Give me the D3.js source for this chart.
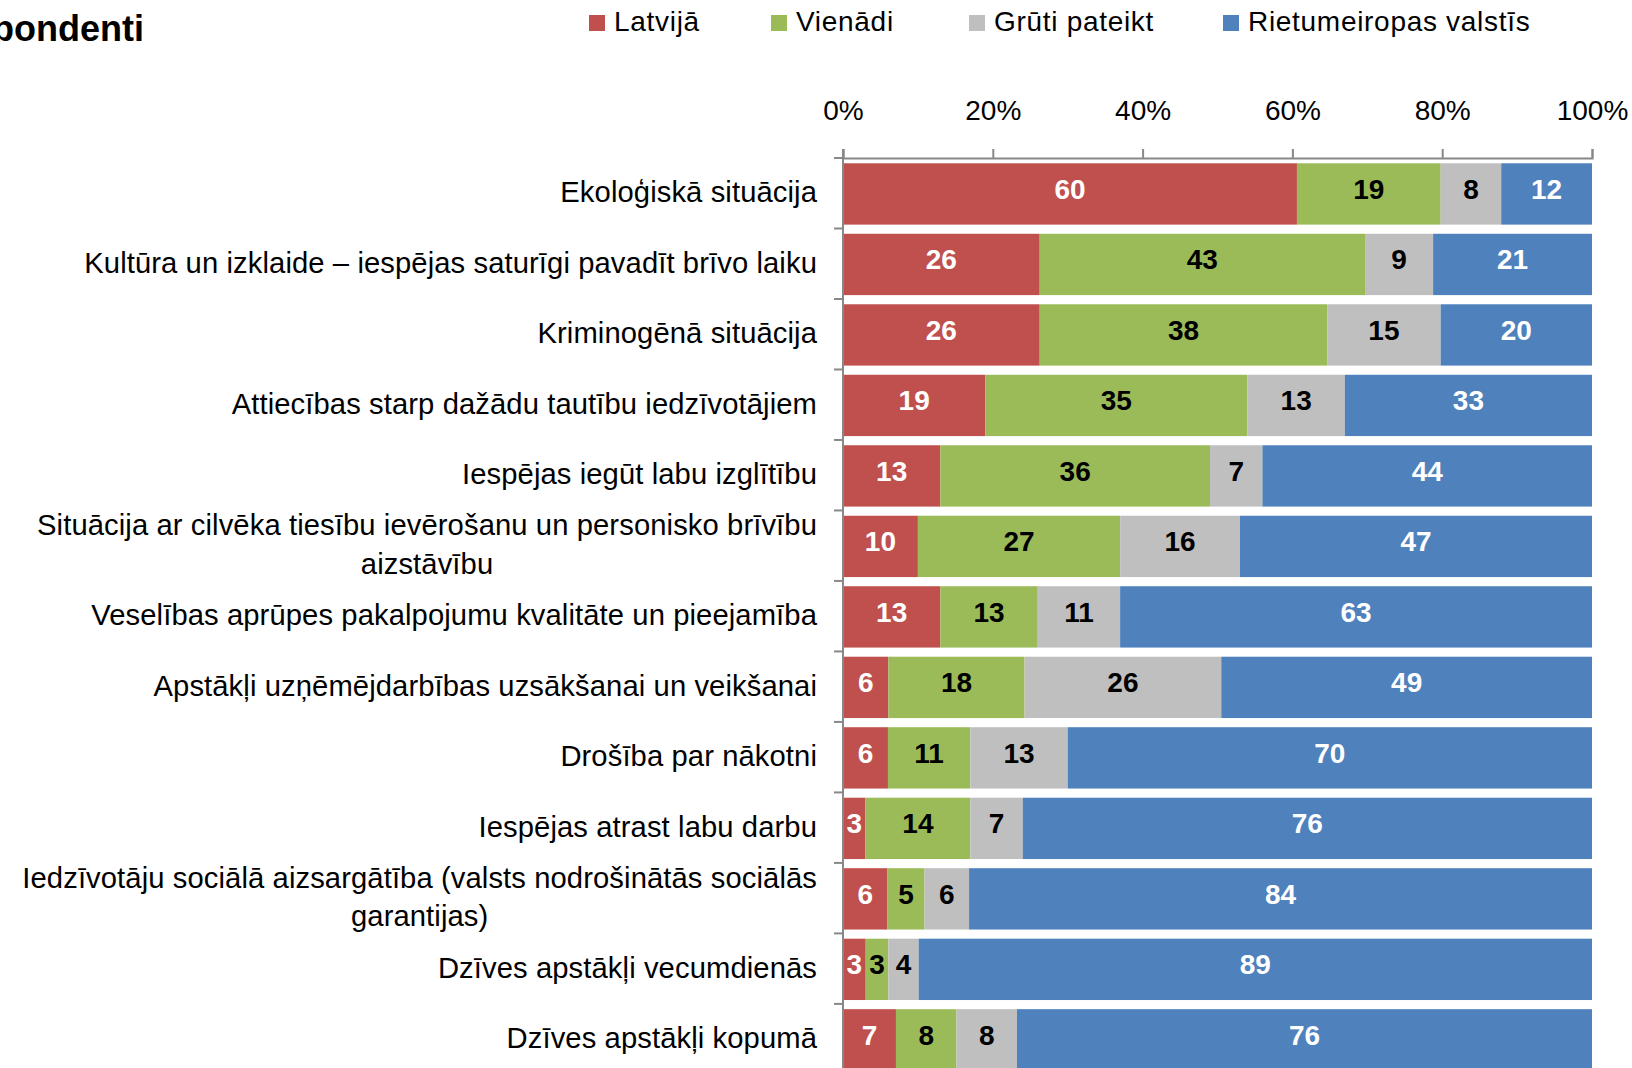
<!DOCTYPE html>
<html>
<head>
<meta charset="utf-8">
<script src="https://cdn.jsdelivr.net/npm/d3@7"></script>
<style>
  body { margin: 0; background: #fff; }
  svg { display: block; font-family: "Liberation Sans", Arial, sans-serif; }
</style>
</head>
<body>
<div id="chart"></div>
<script>
// categories (top to bottom) and series values
var categories = [
  ['Ekoloģiskā situācija'],
  ['Kultūra un izklaide – iespējas saturīgi pavadīt brīvo laiku'],
  ['Kriminogēnā situācija'],
  ['Attiecības starp dažādu tautību iedzīvotājiem'],
  ['Iespējas iegūt labu izglītību'],
  ['Situācija ar cilvēka tiesību ievērošanu un personisko brīvību', 'aizstāvību'],
  ['Veselības aprūpes pakalpojumu kvalitāte un pieejamība'],
  ['Apstākļi uzņēmējdarbības uzsākšanai un veikšanai'],
  ['Drošība par nākotni'],
  ['Iespējas atrast labu darbu'],
  ['Iedzīvotāju sociālā aizsargātība (valsts nodrošinātās sociālās', 'garantijas)'],
  ['Dzīves apstākļi vecumdienās'],
  ['Dzīves apstākļi kopumā']
]
var seriesNames = ['Latvijā', 'Vienādi', 'Grūti pateikt', 'Rietumeiropas valstīs']
var latvija   = [60, 26, 26, 19, 13, 10, 13, 6, 6, 3, 6, 3, 7]
var vienadi   = [19, 43, 38, 35, 36, 27, 13, 18, 11, 14, 5, 3, 8]
var gruti     = [8, 9, 15, 13, 7, 16, 11, 26, 13, 7, 6, 4, 8]
var rietumeir = [12, 21, 20, 33, 44, 47, 63, 49, 70, 76, 84, 89, 76]
var tickValues = [0, 0.2, 0.4, 0.6, 0.8, 1]

var colors = ['#C0504D', '#9BBB59', '#BFBFBF', '#4F81BD']
var labelColors = ['#fff', '#000', '#000', '#fff']

var W = 1632, H = 1068
var x0 = 843, x1 = 1592, yTop = 158

var rows = categories.map(function (c, i) {
  return { key: i, s0: latvija[i], s1: vienadi[i], s2: gruti[i], s3: rietumeir[i] }
})

var svg = d3.select('#chart').append('svg')
  .attr('width', W)
  .attr('height', H)

// Scales
var x = d3.scaleLinear().domain([0, 1]).range([x0, x1])
var y = d3.scaleBand()
  .domain(d3.range(categories.length))
  .range([yTop, yTop + categories.length * 70.6])
  .paddingInner(0.13)
  .paddingOuter(0.075)

// 100% stacked
var stack = d3.stack().keys(['s0', 's1', 's2', 's3']).offset(d3.stackOffsetExpand)
var layers = stack(rows)

var groups = svg.selectAll('.layer')
  .data(layers)
  .enter()
  .append('g')
  .attr('class', 'layer')

groups.selectAll('rect')
  .data(function (d) { return d })
  .enter()
  .append('rect')
  .attr('x', function (d) { return x(d[0]) })
  .attr('y', function (d) { return y(d.data.key) })
  .attr('width', function (d) { return x(d[1]) - x(d[0]) })
  .attr('height', y.bandwidth())
  .attr('fill', function (d, i, n) { return colors[d3.select(n[i].parentNode).datum().index] })

// data labels
groups.each(function (layer) {
  d3.select(this).selectAll('text')
    .data(layer)
    .enter()
    .append('text')
    .attr('x', function (d) { return (x(d[0]) + x(d[1])) / 2 })
    .attr('y', function (d) { return y(d.data.key) + y.bandwidth() / 2 })
    .attr('dy', '0.18em')
    .attr('text-anchor', 'middle')
    .style('font-size', '28px')
    .style('font-weight', 'bold')
    .attr('fill', labelColors[layer.index])
    .text(function (d) { return d.data[layer.key] })
})

// top axis
var xAxis = d3.axisTop(x)
  .tickValues(tickValues)
  .tickFormat(d3.format('.0%'))
  .tickSize(9)
  .tickPadding(29)
  .tickSizeOuter(9)

var gx = svg.append('g')
  .attr('transform', 'translate(0,' + yTop + ')')
  .call(xAxis)
gx.select('.domain').attr('stroke', '#888').attr('stroke-width', 2)
gx.selectAll('.tick line').attr('stroke', '#888').attr('stroke-width', 2)
gx.selectAll('.tick text')
  .attr('fill', '#000')
  .style('font-size', '28px')
  .style('font-family', '"Liberation Sans", Arial, sans-serif')

// left axis: line with ticks at band boundaries
var yBottom = y.range()[1]
svg.append('line')
  .attr('x1', x0).attr('x2', x0)
  .attr('y1', yTop - 9).attr('y2', yBottom)
  .attr('stroke', '#888').attr('stroke-width', 2)

svg.selectAll('.ytick')
  .data(d3.range(categories.length))
  .enter()
  .append('line')
  .attr('class', 'ytick')
  .attr('x1', x0 - 9).attr('x2', x0)
  .attr('y1', function (d) { return y(d) - y.step() * y.paddingOuter() })
  .attr('y2', function (d) { return y(d) - y.step() * y.paddingOuter() })
  .attr('stroke', '#888').attr('stroke-width', 2)

// category labels, right-aligned block with centered lines
var labelRight = 817
var lineGap = 38.4
categories.forEach(function (lines, i) {
  var g = svg.append('g')
  var cy = y(i) + y.bandwidth() / 2
  var texts = g.selectAll('text')
    .data(lines)
    .enter()
    .append('text')
    .attr('y', function (d, j) { return cy + (j - (lines.length - 1) / 2) * lineGap })
    .attr('dy', '0.28em')
    .attr('text-anchor', 'middle')
    .style('font-size', '29.2px')
    .style('letter-spacing', '0.1px')
    .attr('fill', '#000')
    .text(function (d) { return d })
  var maxW = d3.max(texts.nodes(), function (n) { return n.getComputedTextLength() })
  texts.attr('x', labelRight - maxW / 2)
})

// legend
var legendX = [589, 771, 969, 1223]
var legend = svg.selectAll('.legend')
  .data(seriesNames)
  .enter()
  .append('g')
  .attr('class', 'legend')
  .attr('transform', function (d, i) { return 'translate(' + legendX[i] + ',0)' })
legend.append('rect')
  .attr('x', 0).attr('y', 15)
  .attr('width', 16).attr('height', 16)
  .attr('fill', function (d, i) { return colors[i] })
legend.append('text')
  .attr('x', 25).attr('y', 31)
  .style('font-size', '28px')
  .style('letter-spacing', '0.7px')
  .attr('fill', '#000')
  .text(function (d) { return d })

// title (cut at the left edge)
svg.append('text')
  .attr('x', 144).attr('y', 41)
  .attr('text-anchor', 'end')
  .style('font-size', '36px')
  .style('font-weight', 'bold')
  .text('Respondenti')
</script>
</body>
</html>
